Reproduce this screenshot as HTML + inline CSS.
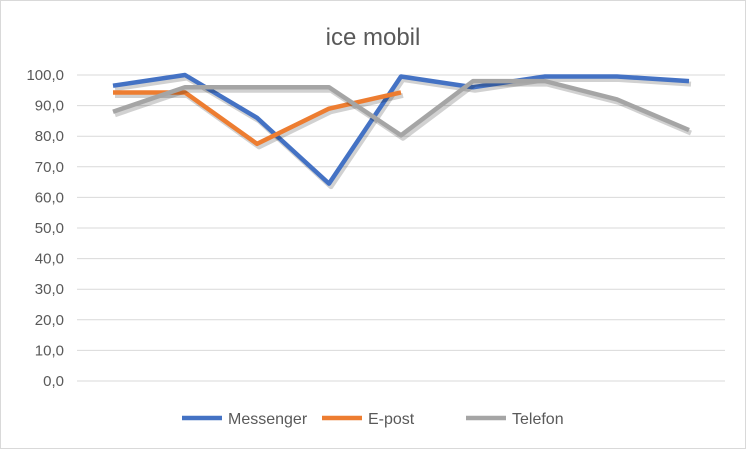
<!DOCTYPE html>
<html><head><meta charset="utf-8"><style>
body{margin:0;background:#fff;font-family:"Liberation Sans",Arial,sans-serif}
svg text{font-family:"Liberation Sans",Arial,sans-serif}
</style></head><body>
<svg id="c" width="746" height="449">
<rect x="0.5" y="0.5" width="745" height="448" fill="#fff" stroke="#d9d9d9"/>
<text x="373" y="45" text-anchor="middle" font-size="24" fill="#595959">ice mobil</text>
<g id="grid"></g><g id="yt"></g><g id="series"></g>
<g id="legend"></g>
</svg>
<script>
const categories=[1,2,3,4,5,6,7,8,9];
const yTicks=[0,10,20,30,40,50,60,70,80,90,100];
const messenger=[96.5,100,86,64.5,99.5,96,99.5,99.5,98];
const epost=[94.3,94.3,77.5,89,94.3];
const telefon=[88,96,96,96,80.3,98,98,92,82];
const names=["Messenger","E-post","Telefon"];
const colors=["#4472c4","#ed7d31","#a5a5a5"];
const X0=77,X1=725,Y0=381,Y1=75;
const step=(X1-X0)/categories.length;
const x=i=>X0+step*(i+0.5);
const y=v=>Y0-(v/100)*(Y0-Y1);
const NS="http://www.w3.org/2000/svg";
function mk(t,a,p){const e=document.createElementNS(NS,t);for(const k in a)e.setAttribute(k,a[k]);p.appendChild(e);return e;}
const grid=document.getElementById('grid'),yt=document.getElementById('yt');
yTicks.forEach(v=>{
 const l=mk('line',{x1:X0,x2:X1,y1:y(v),y2:y(v),stroke:'#d9d9d9','stroke-width':1},grid);
 
 
 const t=mk('text',{x:64,y:y(v)+5,'text-anchor':'end','font-size':15,fill:'#595959'},yt);
 t.textContent=v.toFixed(1).replace('.',',');
 
 
});
const sg=document.getElementById('series');
[messenger,epost,telefon].forEach((d,s)=>{
 const pts=d.map((v,i)=>x(i)+','+y(v)).join(' ');
 const sh=mk('polyline',{points:pts,fill:'none',stroke:'rgba(0,0,0,0.18)','stroke-width':5,'stroke-linejoin':'round',transform:'translate(2,3)'},sg);
 
 
 const p=mk('polyline',{points:pts,fill:'none',stroke:colors[s],'stroke-width':4.5,'stroke-linejoin':'round'},sg);
 
 
});
const lg=document.getElementById('legend');
const lx=[182,322,466];
names.forEach((n,i)=>{
 const g=mk('g',{},lg);
 
 
 mk('line',{x1:lx[i],x2:lx[i]+40,y1:418,y2:418,stroke:colors[i],'stroke-width':4.5},g);
 const t=mk('text',{x:lx[i]+46,y:424,'font-size':16,fill:'#595959'},g);
 t.textContent=n;
});
</script>
</body></html>
